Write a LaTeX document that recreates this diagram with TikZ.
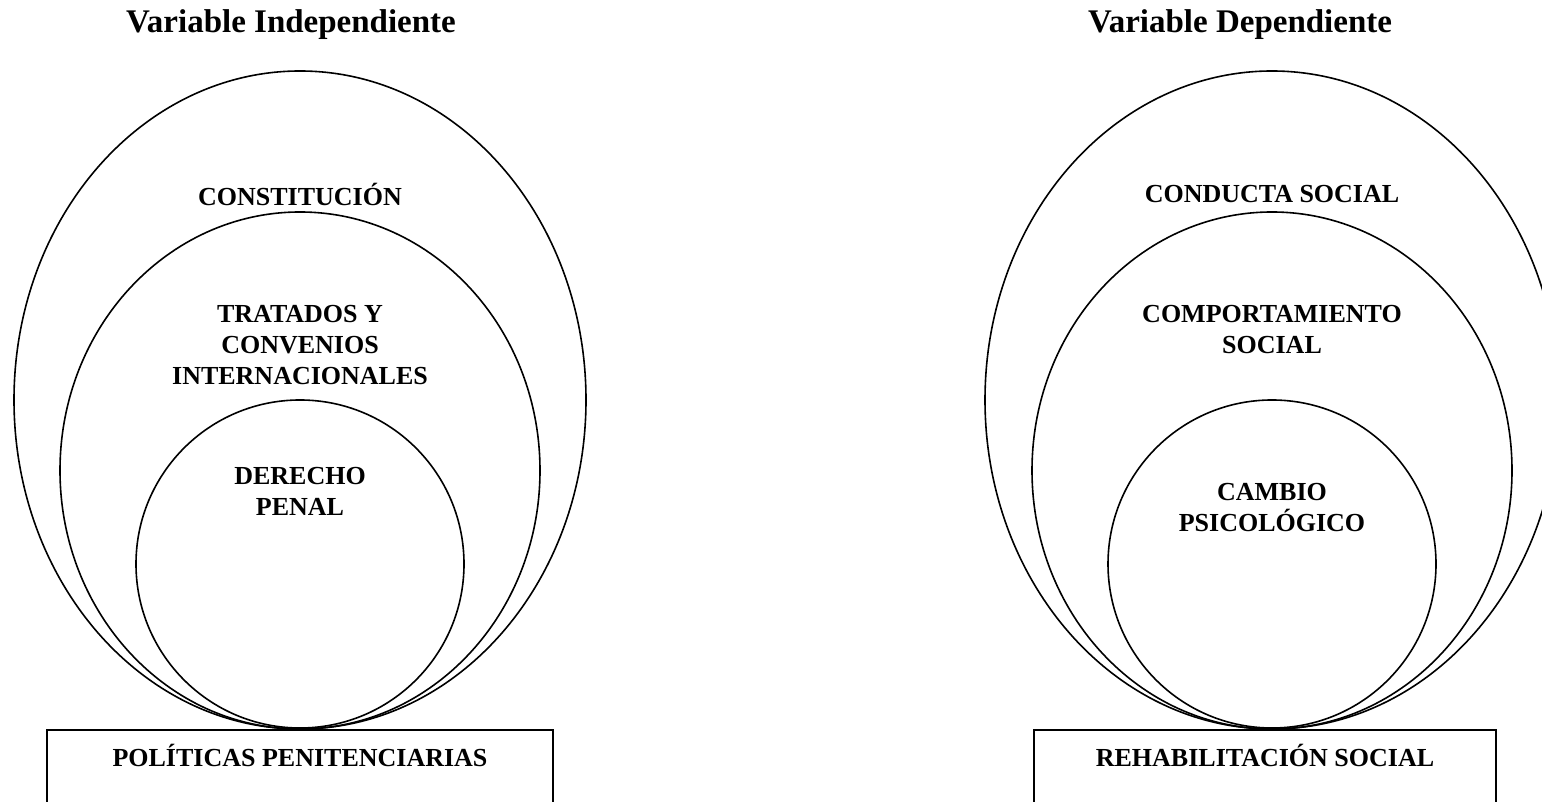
\documentclass[tikz,border=0pt]{standalone}
\usepackage{fontspec}
\setmainfont{Liberation Serif}

\def\conRadius{(300, 402) ellipse (286 and 329)}
\def\traRadius{(300, 331.5) ellipse (240 and 258.5)}
\def\derRadius{(300, 238) circle (164)}
\def\cndRadius{(1272, 402) ellipse (287 and 329)}
\def\cmpRadius{(1272, 331.5) ellipse (240 and 258.5)}
\def\camRadius{(1272, 238) circle (164)}
\colorlet{circle edge}{black}
\tikzset{
  outline/.style={draw=circle edge, line width=0.8pt},
  level/.style={font=\bfseries\fontsize{13}{15.5}\selectfont, align=center}
  }
\tikzstyle{title}=[font=\bfseries\fontsize{16.5}{19}\selectfont, anchor=base]
\tikzstyle{base box}=[draw, line width=0.8pt, anchor=north, inner xsep=0pt, inner ysep=0pt,
  text height=18.5pt, text depth=30pt, font=\bfseries\fontsize{13}{15.5}\selectfont]

\begin{document}
\begin{tikzpicture}[x=0.5pt, y=0.5pt]
  \useasboundingbox (0, 0) rectangle (1542, 802);

  \node[title] (indep) at (291, 769) {Variable Independiente};
  \node[title] (dep) at (1240, 769) {Variable Dependiente};

  \draw[outline] \conRadius;
  \draw[outline] \traRadius;
  \draw[outline] \derRadius;
  \draw[outline] \cndRadius;
  \draw[outline] \cmpRadius;
  \draw[outline] \camRadius;

  \foreach \pos/\name/\txt in {{(300, 608)/con/CONSTITUCIÓN}, {(300, 457)/tra/{TRATADOS Y\\CONVENIOS\\INTERNACIONALES}},
      {(300, 311)/der/{DERECHO\\PENAL}}, {(1272, 608)/cnd/CONDUCTA SOCIAL},
      {(1272, 472)/cmp/{COMPORTAMIENTO\\SOCIAL}}, {(1272, 294)/cam/{CAMBIO\\PSICOLÓGICO}}} {
    \node[level] (\name) at \pos {\txt};
  }

  \node[base box, minimum width=253pt] (pol) at (300, 73) {POLÍTICAS PENITENCIARIAS};
  \node[base box, minimum width=231pt] (reh) at (1265, 73) {REHABILITACIÓN SOCIAL};
\end{tikzpicture}
\end{document}
